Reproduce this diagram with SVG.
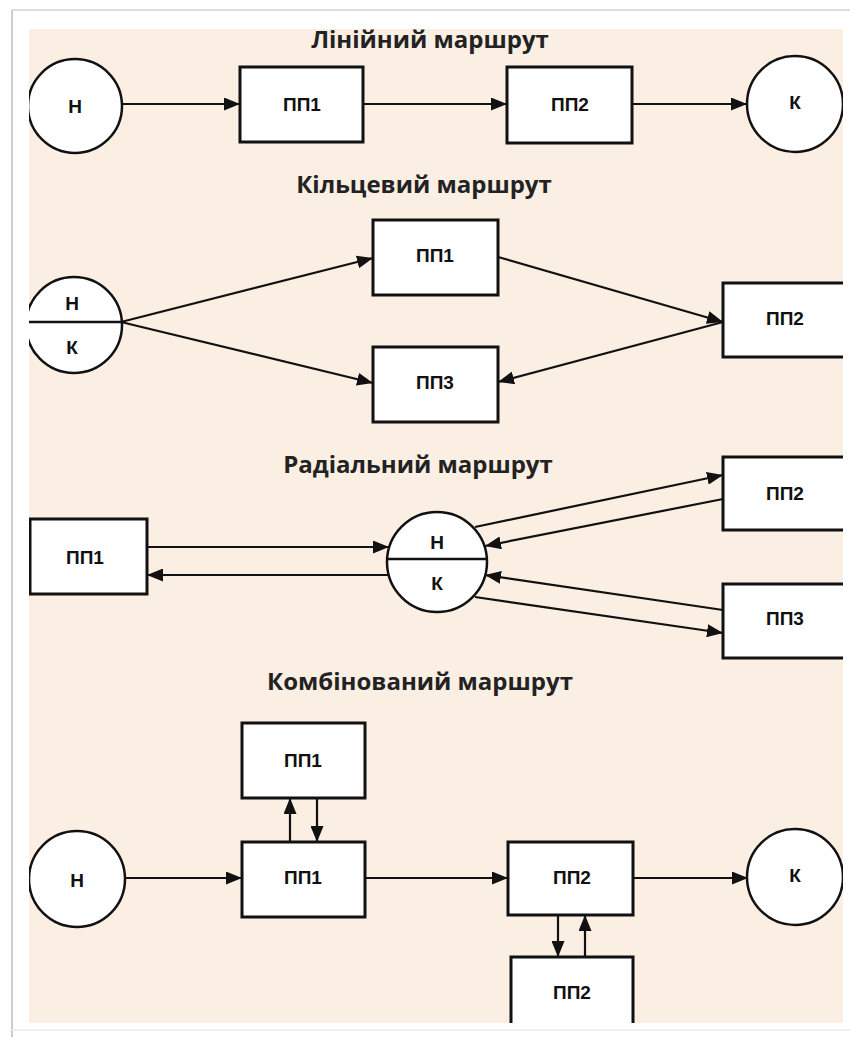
<svg xmlns="http://www.w3.org/2000/svg" width="850" height="1037" viewBox="0 0 850 1037">
<defs>
<style>
.title{font-family:"Open Sans","Liberation Sans",sans-serif;font-weight:bold;font-size:24px;fill:#222;text-anchor:middle}
.lbl{font-family:"Liberation Sans",Arial,sans-serif;font-weight:bold;font-size:19px;fill:#111;text-anchor:middle;dominant-baseline:central}
.box{fill:#fff;stroke:#111;stroke-width:3}
.circ{fill:#fff;stroke:#111;stroke-width:2.5}
.div{stroke:#111;stroke-width:2.5}
.edge{stroke:#111;stroke-width:2.2;fill:none;marker-end:url(#ah)}
</style>
<marker id="ah" markerUnits="userSpaceOnUse" markerWidth="17" markerHeight="13" refX="16" refY="6.5" orient="auto">
<path d="M0,0 L16,6.5 L0,13 z" fill="#111"/>
</marker>
<clipPath id="clip"><rect x="29" y="29" width="814" height="994"/></clipPath>
</defs>
<rect width="850" height="1037" fill="#fff"/>
<line x1="12" y1="10" x2="850" y2="10" stroke="#ddd" stroke-width="2"/>
<line x1="12" y1="10" x2="12" y2="1037" stroke="#ccc" stroke-width="2"/>
<line x1="12" y1="1030" x2="850" y2="1030" stroke="#eee" stroke-width="2"/>
<rect x="29" y="29" width="814" height="994" fill="#FBEEE3"/>
<g clip-path="url(#clip)">
<text class="title" x="430" y="48">Лінійний маршрут</text>
<text class="title" x="424" y="193">Кільцевий маршрут</text>
<text class="title" x="418" y="473">Радіальний маршрут</text>
<text class="title" x="420" y="690">Комбінований маршрут</text>

<g id="connectors">
<line class="edge" x1="122" y1="104" x2="240" y2="104"/>
<line class="edge" x1="363" y1="104" x2="507" y2="104"/>
<line class="edge" x1="632" y1="104" x2="747" y2="104"/>

<line class="edge" x1="121" y1="322" x2="373" y2="258"/>
<line class="edge" x1="121" y1="322" x2="373" y2="383"/>
<line class="edge" x1="498" y1="257" x2="723" y2="322"/>
<line class="edge" x1="723" y1="322" x2="498" y2="382"/>

<line class="edge" x1="147" y1="547" x2="389" y2="547"/>
<line class="edge" x1="389" y1="575" x2="147" y2="575"/>
<line class="edge" x1="475" y1="527" x2="723" y2="475"/>
<line class="edge" x1="723" y1="499" x2="485" y2="546"/>
<line class="edge" x1="723" y1="610" x2="485" y2="575"/>
<line class="edge" x1="475" y1="597" x2="723" y2="633"/>

<line class="edge" x1="125" y1="878" x2="242" y2="878"/>
<line class="edge" x1="290" y1="842" x2="290" y2="798"/>
<line class="edge" x1="317" y1="798" x2="317" y2="842"/>
<line class="edge" x1="365" y1="878" x2="508" y2="878"/>
<line class="edge" x1="633" y1="878" x2="748" y2="878"/>
<line class="edge" x1="558" y1="915" x2="558" y2="957"/>
<line class="edge" x1="585" y1="957" x2="585" y2="915"/>
</g>

<g id="lin-n"><circle class="circ" cx="75" cy="106" r="47"/><text class="lbl" x="75" y="106">Н</text></g>
<g id="lin-pp1"><rect class="box" x="240" y="67" width="123" height="75"/><text class="lbl" x="302" y="104">ПП1</text></g>
<g id="lin-pp2"><rect class="box" x="507" y="67" width="125" height="76"/><text class="lbl" x="570" y="104">ПП2</text></g>
<g id="lin-k"><circle class="circ" cx="795" cy="104" r="48"/><text class="lbl" x="795" y="102">К</text></g>

<g id="ring-nk"><circle class="circ" cx="74" cy="325" r="48"/><line class="div" x1="26" y1="322" x2="121" y2="322"/><text class="lbl" x="72" y="303">Н</text><text class="lbl" x="72" y="347">К</text></g>
<g id="ring-pp1"><rect class="box" x="373" y="220" width="125" height="75"/><text class="lbl" x="435" y="255">ПП1</text></g>
<g id="ring-pp3"><rect class="box" x="373" y="347" width="125" height="75"/><text class="lbl" x="435" y="382">ПП3</text></g>
<g id="ring-pp2"><rect class="box" x="723" y="283" width="140" height="74"/><text class="lbl" x="785" y="318">ПП2</text></g>

<g id="rad-pp1"><rect class="box" x="30" y="519" width="117" height="75"/><text class="lbl" x="85" y="557">ПП1</text></g>
<g id="rad-nk"><circle class="circ" cx="437" cy="562" r="50"/><line class="div" x1="387" y1="559" x2="487" y2="559"/><text class="lbl" x="437" y="542">Н</text><text class="lbl" x="437" y="583">К</text></g>
<g id="rad-pp2"><rect class="box" x="723" y="457" width="140" height="73"/><text class="lbl" x="785" y="493">ПП2</text></g>
<g id="rad-pp3"><rect class="box" x="723" y="584" width="140" height="74"/><text class="lbl" x="785" y="618">ПП3</text></g>

<g id="com-n"><circle class="circ" cx="77" cy="879" r="48"/><text class="lbl" x="77" y="880">Н</text></g>
<g id="com-pp1a"><rect class="box" x="242" y="723" width="123" height="75"/><text class="lbl" x="303" y="760">ПП1</text></g>
<g id="com-pp1"><rect class="box" x="242" y="842" width="123" height="75"/><text class="lbl" x="303" y="877">ПП1</text></g>
<g id="com-pp2"><rect class="box" x="508" y="842" width="125" height="73"/><text class="lbl" x="572" y="877">ПП2</text></g>
<g id="com-pp2b"><rect class="box" x="511" y="957" width="122" height="90"/><text class="lbl" x="572" y="992">ПП2</text></g>
<g id="com-k"><circle class="circ" cx="795" cy="877" r="48"/><text class="lbl" x="795" y="875">К</text></g>
</g>
</svg>
